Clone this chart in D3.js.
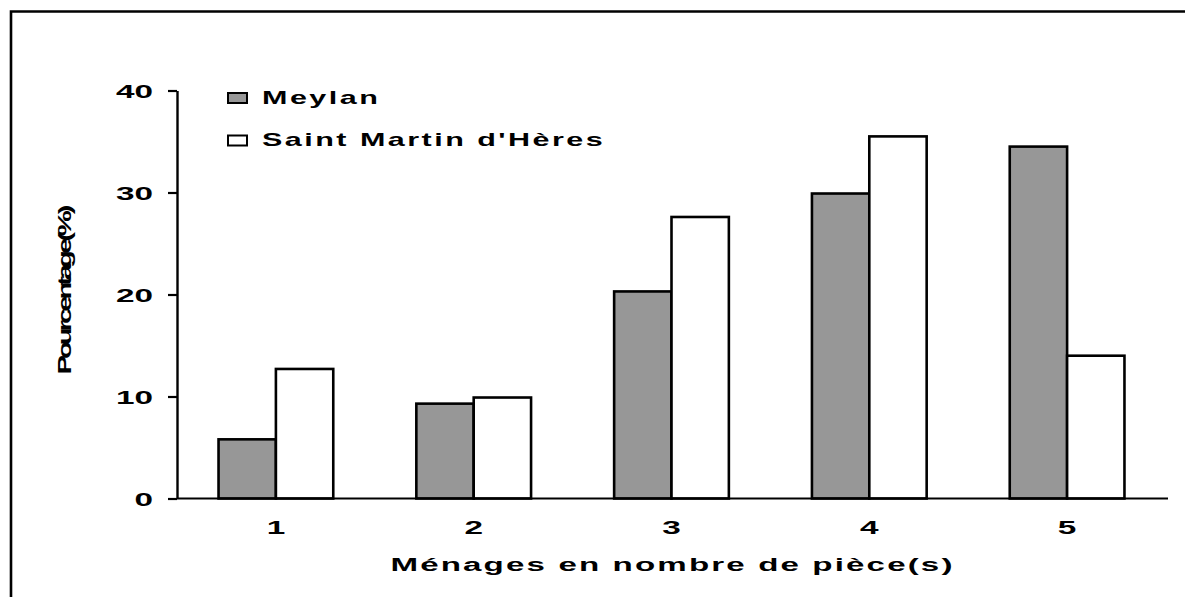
<!DOCTYPE html>
<html>
<head>
<meta charset="utf-8">
<script src="https://cdn.jsdelivr.net/npm/d3@7"></script>
<style>
  html, body { margin: 0; padding: 0; background: #fff; }
  svg { display: block; }
  text { font-family: "Liberation Sans", Arial, sans-serif; font-weight: bold; fill: #000; }
</style>
</head>
<body>
<svg id="chart" width="1185" height="597"></svg>
<script>
// Household size (number of rooms) distribution, in percent
const categories = ["1", "2", "3", "4", "5"];
const seriesNames = ["Meylan", "Saint Martin d'Hères"];
const meylan = [5.8, 9.3, 20.3, 29.9, 34.5];
const saintMartin = [12.7, 9.9, 27.6, 35.5, 14.0];
const yTicks = [0, 10, 20, 30, 40];
const xTitle = "Ménages en nombre de pièce(s)";
const yTitle = "Pourcentage(%)";

const seriesValues = [meylan, saintMartin];
const fills = ["#979797", "#ffffff"];
const stretch = 1.85; // wide lettering of the tick labels

const svg = d3.select("#chart");

// outer frame (only top and left edges fall inside the page)
svg.append("path")
  .attr("d", "M11,700 L11,11.5 L1200,11.5")
  .attr("fill", "none").attr("stroke", "#000").attr("stroke-width", 2.6);

const plotLeft = 177, plotRight = 1166, plotTop = 90.5, plotBottom = 498.5;

const x0 = d3.scaleBand().domain(categories).range([plotLeft, plotRight])
  .paddingInner(0.42).paddingOuter(0.21);
const x1 = d3.scaleBand().domain(seriesNames).range([0, x0.bandwidth()]);
const y = d3.scaleLinear().domain([0, 40]).range([plotBottom, plotTop]);

// bars
const groups = svg.append("g").selectAll("g")
  .data(categories).join("g")
  .attr("transform", d => `translate(${x0(d)},0)`);

groups.selectAll("rect")
  .data((d, i) => seriesNames.map((s, k) => ({ s, k, v: seriesValues[k][i] })))
  .join("rect")
  .attr("x", d => x1(d.s))
  .attr("y", d => y(d.v))
  .attr("width", x1.bandwidth())
  .attr("height", d => y(0) - y(d.v))
  .attr("fill", d => fills[d.k])
  .attr("stroke", "#000")
  .attr("stroke-width", 2.6);

// y axis
const yAxis = svg.append("g")
  .attr("transform", `translate(${plotLeft},0)`)
  .call(d3.axisLeft(y).tickValues(yTicks).tickSize(9).tickSizeOuter(0).tickFormat(d3.format("d")));
yAxis.select(".domain").attr("stroke", "#000").attr("stroke-width", 2.4);
yAxis.selectAll(".tick line").attr("stroke", "#000").attr("stroke-width", 2.2);
yAxis.selectAll(".tick text")
  .attr("x", null).attr("dy", null).attr("y", null)
  .attr("font-size", 18)
  .attr("font-family", null)
  .attr("text-anchor", "end")
  .attr("transform", `translate(-24,6.5) scale(${stretch},1)`);

// x axis
const xAxis = svg.append("g")
  .attr("transform", `translate(0,${plotBottom})`)
  .call(d3.axisBottom(x0).tickSize(0).tickSizeOuter(0));
xAxis.select(".domain").attr("d", `M${plotLeft},0H1168`).attr("stroke", "#000").attr("stroke-width", 2);
xAxis.selectAll(".tick text")
  .attr("y", null).attr("dy", null)
  .attr("font-size", 18)
  .attr("font-family", null)
  .attr("text-anchor", "middle")
  .attr("transform", `translate(0,35.5) scale(${stretch},1)`);

// x axis title: wide, slightly letter-spaced
svg.append("text")
  .attr("transform", `translate(${(plotLeft + 1168) / 2},571) scale(1.78,1)`)
  .attr("text-anchor", "middle")
  .attr("font-size", 18.6)
  .attr("letter-spacing", 1.2)
  .text(xTitle);

// y axis title (rotated, tightly packed)
svg.append("text")
  .attr("transform", "translate(71,291.5) rotate(-90)")
  .attr("text-anchor", "middle")
  .attr("font-size", 18)
  .attr("letter-spacing", -2.5)
  .attr("textLength", 166)
  .attr("lengthAdjust", "spacingAndGlyphs")
  .text(yTitle);

// legend
const legend = svg.append("g").selectAll("g")
  .data(seriesNames).join("g")
  .attr("transform", (d, i) => `translate(228,${93 + i * 42.5})`);
legend.append("rect")
  .attr("width", 19).attr("height", 10)
  .attr("fill", (d, i) => fills[i])
  .attr("stroke", "#000").attr("stroke-width", 2);
legend.append("text")
  .attr("transform", `translate(34,10.5) scale(1.65,1)`)
  .attr("font-size", 18.5)
  .attr("letter-spacing", 1.5)
  .text(d => d);
</script>
</body>
</html>
